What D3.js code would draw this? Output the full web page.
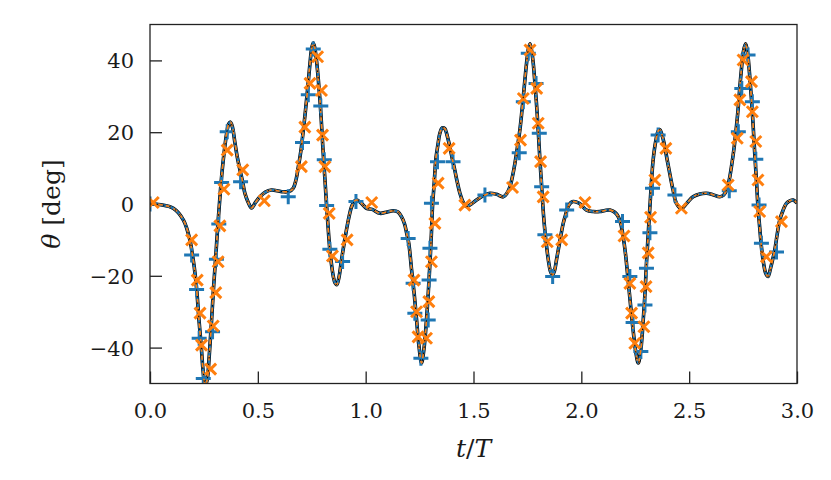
<!DOCTYPE html>
<html>
<head>
<meta charset="utf-8">
<script src="https://d3js.org/d3.v7.min.js"></script>
<style>
  body { margin: 0; background: #fff; }
  text { font-family: "DejaVu Serif", serif; }
</style>
</head>
<body>
<div id="my_dataviz"></div>
<script>
// theta curve: time t/T and angle in degrees
var curveT = [0, 0.05, 0.108, 0.155, 0.185, 0.195, 0.205, 0.216, 0.228, 0.238, 0.247, 0.256, 0.265, 0.275, 0.285, 0.295, 0.305, 0.315, 0.325, 0.335, 0.345, 0.355, 0.365, 0.373, 0.382, 0.394, 0.405, 0.417, 0.43, 0.44, 0.455, 0.471, 0.49, 0.51, 0.535, 0.563, 0.59, 0.618, 0.645, 0.664, 0.676, 0.688, 0.7, 0.711, 0.72, 0.73, 0.742, 0.75, 0.757, 0.764, 0.772, 0.78, 0.788, 0.796, 0.803, 0.811, 0.819, 0.827, 0.834, 0.842, 0.85, 0.858, 0.866, 0.876, 0.888, 0.9, 0.911, 0.923, 0.935, 0.948, 0.958, 0.975, 1.004, 1.03, 1.066, 1.1, 1.128, 1.15, 1.166, 1.18, 1.19, 1.2, 1.213, 1.225, 1.236, 1.247, 1.259, 1.27, 1.282, 1.29, 1.298, 1.305, 1.31, 1.318, 1.325, 1.335, 1.344, 1.355, 1.367, 1.378, 1.39, 1.402, 1.413, 1.425, 1.437, 1.452, 1.468, 1.49, 1.514, 1.545, 1.576, 1.607, 1.638, 1.655, 1.669, 1.68, 1.692, 1.703, 1.715, 1.723, 1.731, 1.739, 1.746, 1.754, 1.762, 1.77, 1.777, 1.785, 1.793, 1.8, 1.808, 1.816, 1.823, 1.831, 1.839, 1.848, 1.857, 1.866, 1.876, 1.885, 1.893, 1.905, 1.916, 1.928, 1.939, 1.95, 1.962, 1.99, 2.024, 2.055, 2.086, 2.11, 2.133, 2.155, 2.171, 2.183, 2.194, 2.205, 2.217, 2.228, 2.24, 2.252, 2.264, 2.276, 2.287, 2.295, 2.302, 2.31, 2.318, 2.325, 2.333, 2.345, 2.356, 2.364, 2.375, 2.387, 2.398, 2.41, 2.425, 2.441, 2.464, 2.49, 2.518, 2.55, 2.58, 2.61, 2.642, 2.66, 2.673, 2.685, 2.696, 2.708, 2.719, 2.727, 2.735, 2.743, 2.75, 2.761, 2.767, 2.773, 2.781, 2.789, 2.797, 2.804, 2.812, 2.819, 2.827, 2.835, 2.845, 2.855, 2.866, 2.877, 2.887, 2.897, 2.908, 2.92, 2.935, 2.951, 2.967, 2.982, 3.0];
var curveTheta = [0, -0.2, -1.2, -4.5, -10, -13.5, -17.5, -23.5, -33, -40, -47, -50.5, -49, -42, -33, -23, -14.5, -5.5, 2.5, 9.5, 15, 19.5, 22.3, 22.8, 21.5, 17, 13, 9.5, 6, 3, 0.5, -1.1, 0.5, 2, 3.3, 3.9, 3.7, 3.4, 3.5, 4.4, 6.5, 10.4, 15, 20.6, 25.5, 31.5, 39.3, 43.5, 44.8, 43.5, 40, 35, 29, 21.5, 14.2, 7, -0.7, -7.5, -12.8, -17, -20.2, -22, -22.5, -20.5, -15.6, -11, -7.2, -3.5, -0.7, 0.8, 1.1, 0.5, -1.2, -1.5, -2.6, -2.2, -1.9, -2.2, -3.5, -5.5, -8.1, -11, -18.4, -25, -32.3, -39.5, -44.3, -40.5, -32.3, -25, -16.5, -8, -0.7, 6, 12.3, 16.5, 19.7, 21.2, 21, 19, 16, 12.5, 9.5, 6, 3, 0.5, -0.7, 0, 1.1, 2.3, 3, 2.7, 2, 3, 4.8, 7.5, 11.3, 15.5, 20.6, 25, 29.9, 35, 39.2, 43, 44.6, 42.5, 39.2, 33.5, 27.1, 20.5, 12.3, 4.8, -1.7, -7.5, -11.9, -16, -18.8, -19.8, -18.5, -15.5, -12.8, -8.8, -5.4, -2.8, -0.7, 0.3, 0.7, 0.2, -1.7, -2.1, -2.1, -1.8, -1.7, -2.3, -3.5, -5.5, -9.1, -14, -21.2, -28, -35.1, -41, -44.3, -40.5, -32.3, -25, -16.5, -8.5, -0.7, 6, 12.3, 17.5, 20.3, 20.7, 19, 16, 12.3, 8.5, 4, 0.2, -1.2, 0.3, 2, 2.8, 3, 2.6, 2, 2.5, 3.9, 6.5, 10.4, 15.5, 21.5, 26.5, 32.7, 38, 42, 44.6, 43.5, 41, 35.5, 29, 21.5, 14.1, 6.5, -0.7, -6.5, -11.9, -16.5, -19.3, -20.2, -18, -15.5, -12.8, -8.5, -4.5, -1.8, 0.2, 0.9, 1.1, 0.3];

// blue "+" samples
var plusT = [0, 0.193, 0.216, 0.228, 0.247, 0.29, 0.308, 0.319, 0.332, 0.358, 0.42, 0.641, 0.707, 0.734, 0.757, 0.792, 0.808, 0.819, 0.834, 0.893, 0.955, 1.197, 1.22, 1.228, 1.256, 1.29, 1.294, 1.298, 1.305, 1.333, 1.405, 1.553, 1.712, 1.731, 1.754, 1.79, 1.805, 1.816, 1.831, 1.867, 1.932, 2.191, 2.225, 2.24, 2.276, 2.295, 2.302, 2.318, 2.33, 2.356, 2.434, 2.686, 2.728, 2.744, 2.773, 2.793, 2.809, 2.824, 2.835, 2.905];
var plusTheta = [0, -14.2, -23.8, -37.4, -48.6, -35.6, -15.4, -5.6, 6.0, 20.1, 6.2, 2.0, 17.1, 30.4, 43.2, 27.3, 12.3, -0.4, -12.6, -16.0, 0.7, -9.6, -22.1, -30.4, -43, -32.3, -21.2, -12.3, 0.2, 11.8, 11.8, 2.5, 14.3, 28.5, 42, 33.6, 19.7, 4.8, -8.6, -20.2, -1.7, -4.9, -20.2, -33, -41.1, -28.1, -17.9, -8.0, 4.4, 19.2, 2.5, 3.7, 20.1, 32.2, 41.5, 28.5, 12.5, -0.3, -10.9, -13.4];

// orange "x" samples
var crossT = [0.015, 0.193, 0.219, 0.232, 0.239, 0.281, 0.293, 0.305, 0.316, 0.324, 0.343, 0.358, 0.43, 0.53, 0.702, 0.718, 0.742, 0.777, 0.795, 0.8, 0.811, 0.831, 0.846, 0.914, 1.028, 1.224, 1.236, 1.243, 1.282, 1.293, 1.305, 1.321, 1.336, 1.387, 1.46, 1.681, 1.718, 1.731, 1.762, 1.793, 1.8, 1.811, 1.823, 1.842, 1.909, 2.017, 2.198, 2.225, 2.233, 2.248, 2.29, 2.3, 2.31, 2.321, 2.341, 2.392, 2.464, 2.681, 2.723, 2.735, 2.75, 2.789, 2.793, 2.809, 2.819, 2.827, 2.858, 2.928];
var crossTheta = [0.4, -10.0, -21.2, -30.4, -39.3, -46, -34, -24.7, -16.1, -6.1, 4.1, 15.0, 9.5, 0.9, 10.4, 21.4, 33.6, 41, 31.6, 19.2, 10.4, -2.6, -14.5, -10.0, 0.4, -21.2, -30, -37, -37.4, -27.2, -16.1, -5.4, 5.8, 15.5, -0.3, 4.6, 17.8, 29.4, 42.9, 32.2, 22.5, 11.8, 2.0, -10.5, -10.0, 0.4, -8.9, -22.1, -30.4, -38.8, -34.2, -23, -13.6, -3.7, 6.7, 15.5, -1.2, 5.3, 18.3, 29, 40.1, 34.1, 25.7, 17.4, 6.7, -2.1, -14.7, -4.9];

var xTicks = [0, 0.5, 1, 1.5, 2, 2.5, 3];
var yTicks = [-40, -20, 0, 20, 40];

function drawChart() {

    var curve = curveT.map(function (t, i) { return { x: t, y: curveTheta[i] }; });
    var plus = plusT.map(function (t, i) { return { x: t, y: plusTheta[i] }; });
    var cross = crossT.map(function (t, i) { return { x: t, y: crossTheta[i] }; });

    var margin = { top: 24.5, right: 34, bottom: 96.5, left: 150 },
        width = 831 - margin.left - margin.right,
        height = 480 - margin.top - margin.bottom;

    var svg = d3.select("#my_dataviz")
        .append("svg")
        .attr("width", width + margin.left + margin.right)
        .attr("height", height + margin.top + margin.bottom)
        .append("g")
        .attr("transform", "translate(" + margin.left + "," + margin.top + ")");

    var x = d3.scaleLinear().domain([0, 3]).range([0, width]);
    var y = d3.scaleLinear().domain([-50, 50]).range([height, 0]);

    svg.append("clipPath").attr("id", "clip")
        .append("rect").attr("width", width).attr("height", height);

    var fmt = function (d) { return d3.format(".1f")(d); };
    var yfmt = function (d) { return d < 0 ? "\u2212" + Math.abs(d) : "" + d; };

    // axes, ticks pointing inward
    var xAxis = svg.append("g")
        .attr("transform", "translate(0," + height + ")")
        .call(d3.axisBottom(x).tickValues(xTicks).tickFormat(fmt).tickSize(-12).tickPadding(20));
    var yAxis = svg.append("g")
        .call(d3.axisLeft(y).tickValues(yTicks).tickFormat(yfmt).tickSize(-12).tickPadding(16));

    [xAxis, yAxis].forEach(function (a) {
        a.select(".domain").remove();
        a.selectAll(".tick line").attr("stroke", "#222").attr("stroke-width", 1.3);
        a.selectAll(".tick text").attr("fill", "#1a1a1a").style("font-size", "21px")
            .style("font-family", "'DejaVu Serif', serif");
    });
    xAxis.selectAll(".tick text").attr("dy", "0.71em");
    yAxis.selectAll(".tick text").attr("dy", "0.36em");

    var plot = svg.append("g").attr("clip-path", "url(#clip)");

    var line = d3.line()
        .x(function (d) { return x(d.x); })
        .y(function (d) { return y(d.y); })
        .curve(d3.curveCatmullRom.alpha(0.5));

    plot.append("path").datum(curve)
        .attr("d", line).attr("fill", "none")
        .attr("stroke", "#000").attr("stroke-width", 3.6);

    plot.append("path").datum(curve)
        .attr("d", line).attr("fill", "none")
        .attr("stroke", "#1f77b4").attr("stroke-width", 2.4);

    plot.append("g").selectAll("path")
        .data(plus)
        .enter()
        .append("path")
        .attr("d", function (d) {
            var cx = x(d.x), cy = y(d.y), r = 7.5;
            return "M" + (cx - r) + "," + cy + "H" + (cx + r) + "M" + cx + "," + (cy - r) + "V" + (cy + r);
        })
        .attr("stroke", "#1f77b4").attr("stroke-width", 3).attr("fill", "none");

    plot.append("path").datum(curve)
        .attr("d", line).attr("fill", "none")
        .attr("stroke", "#ff7f0e").attr("stroke-width", 1.6)
        .attr("stroke-dasharray", "5,3");

    plot.append("g").selectAll("path")
        .data(cross)
        .enter()
        .append("path")
        .attr("d", function (d) {
            var cx = x(d.x), cy = y(d.y), r = 5.5;
            return "M" + (cx - r) + "," + (cy - r) + "L" + (cx + r) + "," + (cy + r) +
                "M" + (cx - r) + "," + (cy + r) + "L" + (cx + r) + "," + (cy - r);
        })
        .attr("stroke", "#ff7f0e").attr("stroke-width", 3).attr("fill", "none");

    plot.append("path").datum(curve)
        .attr("d", line).attr("fill", "none")
        .attr("stroke", "#000").attr("stroke-width", 1)
        .attr("stroke-dasharray", "1.5,5");

    // frame
    svg.append("rect")
        .attr("width", width).attr("height", height)
        .attr("fill", "none").attr("stroke", "#222").attr("stroke-width", 1.3);

    // axis labels
    var xl = svg.append("text")
        .attr("x", width / 2).attr("y", height + 73)
        .attr("text-anchor", "middle")
        .style("font-size", "25px").attr("fill", "#1a1a1a");
    xl.append("tspan").attr("font-style", "italic").text("t");
    xl.append("tspan").text("/");
    xl.append("tspan").attr("font-style", "italic").text("T");

    var yl = svg.append("text")
        .attr("transform", "translate(-90," + (height / 2) + ") rotate(-90)")
        .attr("text-anchor", "middle")
        .style("font-size", "25px").attr("fill", "#1a1a1a");
    yl.append("tspan").attr("font-style", "italic").text("\u03b8");
    yl.append("tspan").text(" [deg]");
}

drawChart();
</script>
</body>
</html>
